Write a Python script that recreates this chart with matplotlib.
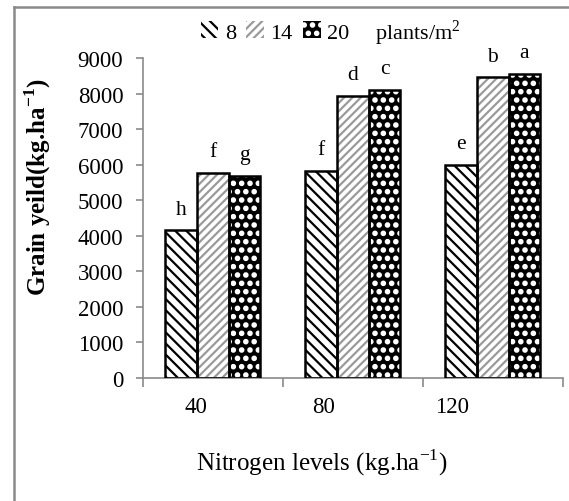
import numpy as np
import matplotlib
matplotlib.use("Agg")
import matplotlib.pyplot as plt
from matplotlib import hatch as mhatch
from matplotlib.lines import Line2D
from matplotlib.patches import Patch
from matplotlib.transforms import ScaledTranslation

# data
levels = ["40", "80", "120"]
densities = ["8", "14", "20"]
yield_8 = [4150, 5830, 5990]
yield_14 = [5770, 7940, 8460]
yield_20 = [5690, 8100, 8560]
letters_8 = ["h", "f", "e"]
letters_14 = ["f", "d", "b"]
letters_20 = ["g", "c", "a"]

plt.rcParams["font.family"] = ["Liberation Serif", "DejaVu Serif"]
plt.rcParams["hatch.linewidth"] = 1.6
# 'O' hatch as filled dots -> white dots on black like the reference
mhatch.LargeCircles.filled = True
mhatch.LargeCircles.size = 0.2

fig = plt.figure(figsize=(5.69, 5.02), dpi=100)
W, H = 569, 502
ax = fig.add_axes([142.7 / W, 1 - 379 / H, 420 / W, 320 / H])

# outer frame, only left and top edges show in the reference
fig.add_artist(Line2D([14 / W, 14 / W], [0, 1 - 8 / H], transform=fig.transFigure,
                      color="#8a8a8a", linewidth=1.8))
fig.add_artist(Line2D([14 / W, 1], [1 - 8 / H, 1 - 8 / H], transform=fig.transFigure,
                      color="#8a8a8a", linewidth=1.8))

x = np.arange(len(levels))
w = 0.227
series = [yield_8, yield_14, yield_20]
letters = [letters_8, letters_14, letters_20]
styles = [
  dict(facecolor="white", hatch_color="black", hatch="\\\\\\"),
  dict(facecolor="white", hatch_color="#9a9a9a", hatch="////"),
  dict(facecolor="black", hatch_color="white", hatch="OO"),
]

handles = []
for i, (vals, st) in enumerate(zip(series, styles)):
  pos = x + (i - 1) * w
  # pattern layer
  ax.bar(pos, vals, w, facecolor=st["facecolor"], edgecolor=st["hatch_color"],
         hatch=st["hatch"], linewidth=0, zorder=2)
  # outline layer
  ax.bar(pos, vals, w, fill=False, edgecolor="black", linewidth=1.8, zorder=3)
  for p, v, t in zip(pos, vals, letters[i]):
    ax.annotate(t, (p, v), xytext=(0, 12), textcoords="offset points",
                ha="center", va="baseline", fontsize=15.5)
  handles.append(Patch(facecolor=st["facecolor"], edgecolor=st["hatch_color"],
                       hatch=st["hatch"], linewidth=0))

ax.set_xlim(-0.5, 2.5)
ax.set_ylim(0, 9000)
ax.set_yticks(np.arange(0, 9001, 1000))
ax.set_xticks([-0.5, 0.5, 1.5, 2.5])
ax.set_xticklabels([])
ax.set_xticks(x, minor=True)
ax.set_xticklabels(levels, minor=True, fontsize=16.5)
ax.tick_params(axis="x", which="minor", length=0, pad=13)
ax.tick_params(axis="x", which="major", direction="out", length=6.5, color="#8a8a8a", width=1.2)
ax.tick_params(axis="y", direction="out", length=5, color="#8a8a8a", width=1.2,
               labelsize=16.5, pad=9)
# tick labels sit left of the group centres in the reference
for lab, dx in zip(ax.get_xticklabels(minor=True), [-17, -29, -41]):
  lab.set_transform(lab.get_transform() + ScaledTranslation(dx / 100, 0, fig.dpi_scale_trans))

for s in ["top", "right"]:
  ax.spines[s].set_visible(False)
for s in ["left", "bottom"]:
  ax.spines[s].set_color("#8a8a8a")
  ax.spines[s].set_linewidth(1.2)

fig.text(38 / W, 1 - 187 / H, "Grain yeild(kg.ha$^{\\mathregular{-1}}$)", rotation=90,
         ha="center", va="center", fontsize=18, fontweight="bold")
fig.text(322 / W, 1 - 463 / H, "Nitrogen levels (kg.ha$^{\\mathregular{-1}}$)",
         ha="center", va="center", fontsize=18)

fig.legend(handles, densities, loc="center", bbox_to_anchor=(275 / W, 1 - 33 / H), ncol=3,
           frameon=False, fontsize=16, handlelength=0.8, handleheight=0.8,
           handletextpad=0.3, columnspacing=0.45, borderpad=0)
fig.text(375 / W, 1 - 33 / H, "plants/m$^{\\mathregular{2}}$", ha="left", va="center", fontsize=16)

fig.savefig("out.png", dpi=100)
